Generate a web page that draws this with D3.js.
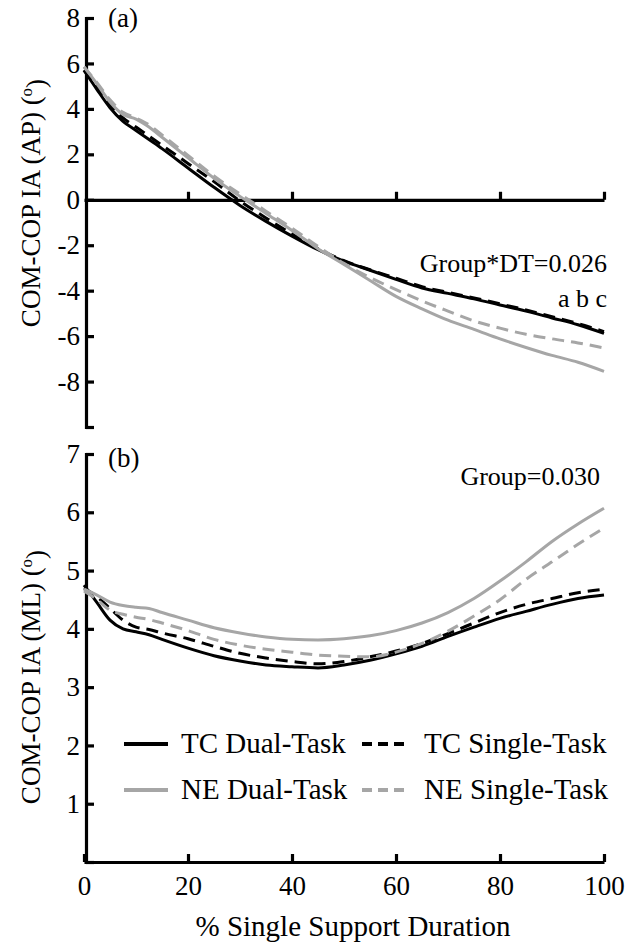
<!DOCTYPE html>
<html>
<head>
<meta charset="utf-8">
<script src="https://cdn.jsdelivr.net/npm/d3@7"></script>
<style>
  body { margin: 0; background: #fff; }
</style>
</head>
<body>
<script>
// % single support duration sample points
const pct = [0, 2.5, 5, 7.5, 10, 12.5, 15, 20, 25, 30, 35, 40, 45, 50, 55, 60, 65, 70, 75, 80, 85, 90, 95, 100];

// (a) COM-COP IA (AP)
const apTcDual   = [5.7, 4.85, 4.05, 3.45, 3.05, 2.65, 2.25, 1.4, 0.55, -0.25, -0.95, -1.6, -2.2, -2.7, -3.1, -3.5, -3.88, -4.12, -4.36, -4.63, -4.9, -5.2, -5.5, -5.88];
const apTcSingle = [5.7, 4.95, 4.2, 3.6, 3.2, 2.8, 2.4, 1.6, 0.8, -0.05, -0.8, -1.5, -2.15, -2.68, -3.08, -3.45, -3.82, -4.08, -4.32, -4.58, -4.85, -5.15, -5.45, -5.8];
const apNeDual   = [5.85, 5.1, 4.3, 3.75, 3.55, 3.2, 2.75, 1.85, 0.95, 0.15, -0.6, -1.35, -2.15, -2.85, -3.55, -4.25, -4.8, -5.3, -5.7, -6.12, -6.5, -6.85, -7.15, -7.55];
const apNeSingle = [5.85, 5.15, 4.4, 3.85, 3.6, 3.3, 2.85, 1.95, 1.05, 0.25, -0.5, -1.25, -2.05, -2.8, -3.42, -3.95, -4.45, -4.9, -5.33, -5.65, -5.92, -6.12, -6.3, -6.52];

// (b) COM-COP IA (ML)
const mlTcDual   = [4.75, 4.45, 4.15, 4.0, 3.95, 3.9, 3.82, 3.67, 3.54, 3.45, 3.38, 3.35, 3.33, 3.38, 3.46, 3.57, 3.7, 3.87, 4.03, 4.18, 4.3, 4.42, 4.52, 4.58];
const mlTcSingle = [4.7, 4.55, 4.35, 4.15, 4.03, 3.99, 3.93, 3.83, 3.7, 3.58, 3.5, 3.44, 3.4, 3.44, 3.52, 3.62, 3.75, 3.92, 4.1, 4.28, 4.42, 4.52, 4.62, 4.68];
const mlNeDual   = [4.68, 4.58, 4.46, 4.4, 4.37, 4.35, 4.28, 4.15, 4.02, 3.93, 3.86, 3.82, 3.81, 3.83, 3.88, 3.97, 4.1, 4.28, 4.52, 4.82, 5.15, 5.5, 5.8, 6.07];
const mlNeSingle = [4.65, 4.5, 4.32, 4.25, 4.2, 4.16, 4.1, 3.97, 3.82, 3.72, 3.65, 3.6, 3.55, 3.53, 3.52, 3.6, 3.75, 3.96, 4.22, 4.5, 4.85, 5.15, 5.45, 5.73];

const seriesNames = ["TC Dual-Task", "TC Single-Task", "NE Dual-Task", "NE Single-Task"];
const xTicks = [0, 20, 40, 60, 80, 100];
const apTicks = [-10, -8, -6, -4, -2, 0, 2, 4, 6, 8];
const mlTicks = [0, 1, 2, 3, 4, 5, 6, 7];

const FONT = '"Liberation Serif"';

const styles = [
  {color: "#000", dash: null},
  {color: "#000", dash: "12,7"},
  {color: "#a6a6a6", dash: null},
  {color: "#a6a6a6", dash: "12,7"}
];

const W = 628, H = 947;
const margin = {left: 84, right: 24};
const svg = d3.select("body").append("svg")
  .attr("width", W).attr("height", H)
  .style("font-family", FONT);

const x = d3.scaleLinear().domain([0, 100]).range([margin.left, W - margin.right]);
const yA = d3.scaleLinear().domain([-10, 8]).range([427, 18]);
const yB = d3.scaleLinear().domain([0, 7]).range([862, 454]);

function styleAxis(g) {
  g.attr("font-family", null);
  g.select(".domain").attr("stroke", "#000").attr("stroke-width", 3.2);
  g.selectAll(".tick line").attr("stroke", "#000").attr("stroke-width", 3.2);
  g.selectAll(".tick text")
    .style("font-family", FONT)
    .style("font-size", "27px").attr("fill", "#000");
}

function drawPanel(y, series, ticks, showXLabels) {
  const line = d3.line()
    .x((d, i) => x(pct[i]))
    .y(d => y(d))
    .curve(d3.curveMonotoneX);

  // horizontal axis (zero line in (a), bottom axis in (b))
  const xa = svg.append("g")
    .attr("transform", `translate(0,${y(0)})`)
    .call(d3.axisBottom(x).tickValues(showXLabels ? xTicks : xTicks.slice(1))
      .tickSize(-8).tickSizeOuter(0).tickPadding(14)
      .tickFormat(showXLabels ? d => String(d) : ""));
  styleAxis(xa);
  xa.selectAll(".tick text").attr("dy", "0.71em");

  const ya = svg.append("g")
    .attr("transform", `translate(${margin.left + 2},0)`)
    .call(d3.axisLeft(y).tickValues(ticks)
      .tickSize(-8).tickSizeOuter(-8).tickPadding(6)
      .tickFormat(d => (d === ticks[0] ? "" : String(d))));
  styleAxis(ya);

  series.forEach((s, i) => {
    svg.append("path")
      .datum(s)
      .attr("fill", "none")
      .attr("stroke", styles[i].color)
      .attr("stroke-width", 3)
      .attr("stroke-dasharray", styles[i].dash)
      .attr("d", line);
  });
}

drawPanel(yA, [apTcDual, apTcSingle, apNeDual, apNeSingle], apTicks, false);
drawPanel(yB, [mlTcDual, mlTcSingle, mlNeDual, mlNeSingle], mlTicks, true);

function label(xp, yp, txt, size, anchor) {
  return svg.append("text")
    .attr("x", xp).attr("y", yp)
    .attr("text-anchor", anchor || "start")
    .style("font-family", FONT)
    .style("font-size", size + "px")
    .text(txt);
}

// panel labels
label(108, 27, "(a)", 27);
label(108, 467, "(b)", 27);

// stats annotations
label(607, 272, "Group*DT=0.026", 26, "end");
label(607, 307, "a b c", 26, "end");
label(600, 485, "Group=0.030", 26, "end");

// y titles
function yTitle(cy, txt) {
  const t = svg.append("text")
    .attr("transform", `translate(40,${cy}) rotate(-90)`)
    .attr("text-anchor", "middle")
    .style("font-family", FONT)
    .style("font-size", "27px");
  t.append("tspan").text(txt + " (");
  t.append("tspan").attr("dy", "-0.45em").style("font-size", "17px").text("o");
  t.append("tspan").attr("dy", "0.45em").text(")");
}
yTitle(203, "COM-COP IA (AP)");
yTitle(677, "COM-COP IA (ML)");

// x title
label(353, 936, "% Single Support Duration", 29, "middle");

// legend
const legendPos = [
  {lx: 124, lw: 44, tx: 181, y: 744},
  {lx: 362, lw: 48, tx: 424, y: 744},
  {lx: 124, lw: 44, tx: 181, y: 790},
  {lx: 362, lw: 48, tx: 424, y: 790}
];
seriesNames.forEach((name, i) => {
  const p = legendPos[i];
  svg.append("line")
    .attr("x1", p.lx).attr("x2", p.lx + p.lw)
    .attr("y1", p.y).attr("y2", p.y)
    .attr("stroke", styles[i].color)
    .attr("stroke-width", 4)
    .attr("stroke-dasharray", styles[i].dash ? "10,6" : null);
  label(p.tx, p.y + 9, name, 29);
});
</script>
</body>
</html>
